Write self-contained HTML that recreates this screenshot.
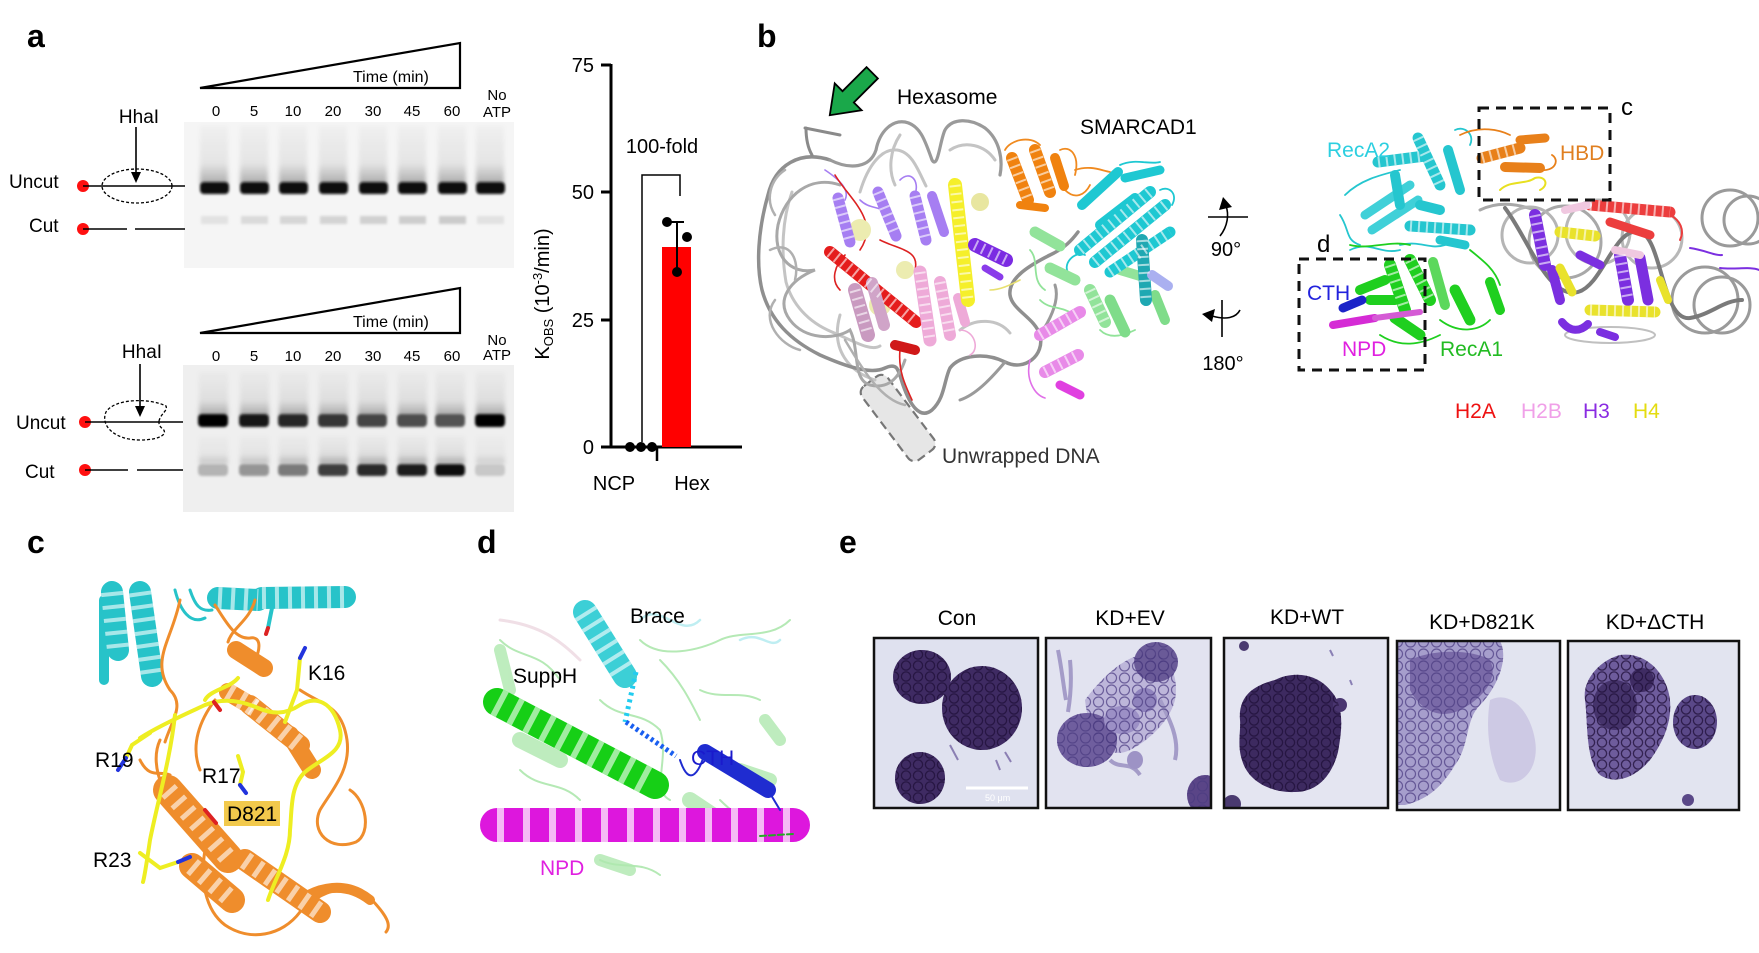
<!DOCTYPE html>
<html><head><meta charset="utf-8">
<style>
html,body{margin:0;padding:0;background:#fff;}
svg{display:block;font-family:"Liberation Sans",Arial,sans-serif;}
.st{fill:none;stroke:#fff;stroke-opacity:.6;stroke-dasharray:2 6;stroke-linecap:butt;}
</style></head><body>
<svg width="1759" height="953" viewBox="0 0 1759 953" xmlns="http://www.w3.org/2000/svg">
<defs>
<filter id="b1" x="-30%" y="-80%" width="160%" height="260%"><feGaussianBlur stdDeviation="1.3"/></filter>
<filter id="b2" x="-30%" y="-30%" width="160%" height="160%"><feGaussianBlur stdDeviation="2.2"/></filter>
<linearGradient id="sm" x1="0" y1="0" x2="0" y2="1">
<stop offset="0" stop-color="#000" stop-opacity="0.02"/>
<stop offset="0.65" stop-color="#000" stop-opacity="0.07"/>
<stop offset="1" stop-color="#000" stop-opacity="0.3"/>
</linearGradient>
<pattern id="cells" width="12" height="11" patternUnits="userSpaceOnUse">
<circle cx="6" cy="5.5" r="4.6" fill="none" stroke="#1e0f38" stroke-width="1.3" stroke-opacity="0.75"/>
</pattern>
<pattern id="cellsL" width="13" height="12" patternUnits="userSpaceOnUse">
<circle cx="6.5" cy="6" r="5" fill="none" stroke="#4a3a80" stroke-width="1.2" stroke-opacity="0.7"/>
</pattern>
<clipPath id="f1"><rect x="874" y="638" width="164" height="170"/></clipPath>
<clipPath id="f2"><rect x="1046" y="638" width="165" height="170"/></clipPath>
<clipPath id="f3"><rect x="1224" y="638" width="164" height="170"/></clipPath>
<clipPath id="f4"><rect x="1397" y="641" width="163" height="169"/></clipPath>
<clipPath id="f5"><rect x="1568" y="641" width="171" height="169"/></clipPath>
</defs>
<rect width="1759" height="953" fill="#fff"/>

<!-- ================= PANEL A ================= -->
<text x="27" y="47" font-size="32" font-weight="bold">a</text>

<path d="M200 88 L460 43 L460 88 Z" fill="none" stroke="#000" stroke-width="2.2"/>
<text x="353" y="82" font-size="16">Time (min)</text>
<g font-size="15" text-anchor="middle">
<text x="216" y="116">0</text><text x="254" y="116">5</text><text x="293" y="116">10</text><text x="333" y="116">20</text><text x="373" y="116">30</text><text x="412" y="116">45</text><text x="452" y="116">60</text>
<text x="497" y="100">No</text><text x="497" y="117">ATP</text>
</g>
<rect x="184" y="122" width="330" height="146" fill="#f5f5f5"/>
<g filter="url(#b2)">
<rect x="200" y="126" width="28" height="58" fill="url(#sm)"/>
<rect x="240" y="126" width="28" height="58" fill="url(#sm)"/>
<rect x="279" y="126" width="28" height="58" fill="url(#sm)"/>
<rect x="319" y="126" width="28" height="58" fill="url(#sm)"/>
<rect x="359" y="126" width="28" height="58" fill="url(#sm)"/>
<rect x="398" y="126" width="28" height="58" fill="url(#sm)"/>
<rect x="438" y="126" width="28" height="58" fill="url(#sm)"/>
<rect x="476" y="126" width="28" height="58" fill="url(#sm)"/>
</g>
<g filter="url(#b1)" fill="#080808">
<rect x="200" y="182" width="29" height="12" rx="4"/>
<rect x="240" y="182" width="29" height="12" rx="4"/>
<rect x="279" y="182" width="29" height="12" rx="4"/>
<rect x="319" y="182" width="29" height="12" rx="4"/>
<rect x="359" y="182" width="29" height="12" rx="4"/>
<rect x="398" y="182" width="29" height="12" rx="4"/>
<rect x="438" y="182" width="29" height="12" rx="4"/>
<rect x="476" y="182" width="29" height="12" rx="4"/>
</g>
<g filter="url(#b1)">
<rect x="201" y="216" width="27" height="8" fill="#e2e2e2"/>
<rect x="241" y="216" width="27" height="8" fill="#dadada"/>
<rect x="280" y="216" width="27" height="8" fill="#d6d6d6"/>
<rect x="320" y="216" width="27" height="8" fill="#d3d3d3"/>
<rect x="360" y="216" width="27" height="8" fill="#d0d0d0"/>
<rect x="399" y="216" width="27" height="8" fill="#cdcdcd"/>
<rect x="439" y="216" width="27" height="8" fill="#cbcbcb"/>
<rect x="477" y="216" width="27" height="8" fill="#e2e2e2"/>
</g>

<text x="139" y="123" font-size="19" text-anchor="middle">HhaI</text>
<line x1="136" y1="127" x2="136" y2="176" stroke="#000" stroke-width="1.6"/>
<path d="M131 172 L141 172 L136 183 Z" fill="#000"/>
<text x="9" y="188" font-size="19">Uncut</text>
<circle cx="83" cy="186" r="6" fill="#ff1010"/>
<line x1="83" y1="186" x2="185" y2="186" stroke="#000" stroke-width="1.6"/>
<ellipse cx="137" cy="186" rx="35" ry="17" fill="none" stroke="#000" stroke-width="1.3" stroke-dasharray="3 2"/>
<text x="29" y="232" font-size="19">Cut</text>
<circle cx="83" cy="229" r="6" fill="#ff1010"/>
<line x1="83" y1="229" x2="127" y2="229" stroke="#000" stroke-width="1.6"/>
<line x1="135" y1="229" x2="185" y2="229" stroke="#000" stroke-width="1.6"/>

<path d="M200 333 L460 288 L460 333 Z" fill="none" stroke="#000" stroke-width="2.2"/>
<text x="353" y="327" font-size="16">Time (min)</text>
<g font-size="15" text-anchor="middle">
<text x="216" y="361">0</text><text x="254" y="361">5</text><text x="293" y="361">10</text><text x="333" y="361">20</text><text x="373" y="361">30</text><text x="412" y="361">45</text><text x="452" y="361">60</text>
<text x="497" y="345">No</text><text x="497" y="360">ATP</text>
</g>
<rect x="183" y="365" width="331" height="147" fill="#efefef"/>
<g filter="url(#b2)">
<rect x="199" y="372" width="29" height="44" fill="url(#sm)"/>
<rect x="240" y="372" width="29" height="44" fill="url(#sm)"/>
<rect x="279" y="372" width="29" height="44" fill="url(#sm)"/>
<rect x="319" y="372" width="29" height="44" fill="url(#sm)"/>
<rect x="358" y="372" width="29" height="44" fill="url(#sm)"/>
<rect x="398" y="372" width="29" height="44" fill="url(#sm)"/>
<rect x="436" y="372" width="29" height="44" fill="url(#sm)"/>
<rect x="476" y="372" width="29" height="44" fill="url(#sm)"/>
<rect x="199" y="436" width="29" height="28" fill="url(#sm)" opacity="0.6"/>
<rect x="240" y="436" width="29" height="28" fill="url(#sm)" opacity="0.7"/>
<rect x="279" y="436" width="29" height="28" fill="url(#sm)" opacity="0.8"/>
<rect x="319" y="436" width="29" height="28" fill="url(#sm)"/>
<rect x="358" y="436" width="29" height="28" fill="url(#sm)"/>
<rect x="398" y="436" width="29" height="28" fill="url(#sm)"/>
<rect x="436" y="436" width="29" height="28" fill="url(#sm)"/>
<rect x="476" y="436" width="29" height="28" fill="url(#sm)" opacity="0.5"/>
</g>
<g filter="url(#b1)">
<rect x="198" y="414" width="30" height="13" rx="4" fill="#050505"/>
<rect x="239" y="414" width="30" height="13" rx="4" fill="#141414"/>
<rect x="278" y="414" width="30" height="13" rx="4" fill="#262626"/>
<rect x="318" y="414" width="30" height="13" rx="4" fill="#353535"/>
<rect x="357" y="414" width="30" height="13" rx="4" fill="#444"/>
<rect x="397" y="414" width="30" height="13" rx="4" fill="#4e4e4e"/>
<rect x="435" y="414" width="30" height="13" rx="4" fill="#525252"/>
<rect x="475" y="414" width="30" height="13" rx="4" fill="#000"/>
<rect x="198" y="464" width="30" height="12" rx="4" fill="#b4b4b4"/>
<rect x="239" y="464" width="30" height="12" rx="4" fill="#959595"/>
<rect x="278" y="464" width="30" height="12" rx="4" fill="#7a7a7a"/>
<rect x="318" y="464" width="30" height="12" rx="4" fill="#3e3e3e"/>
<rect x="357" y="464" width="30" height="12" rx="4" fill="#2c2c2c"/>
<rect x="397" y="464" width="30" height="12" rx="4" fill="#1c1c1c"/>
<rect x="435" y="464" width="30" height="12" rx="4" fill="#111"/>
<rect x="475" y="464" width="30" height="12" rx="4" fill="#c8c8c8"/>
</g>

<text x="142" y="358" font-size="19" text-anchor="middle">HhaI</text>
<line x1="140" y1="364" x2="140" y2="410" stroke="#000" stroke-width="1.6"/>
<path d="M135 406 L145 406 L140 417 Z" fill="#000"/>
<text x="16" y="429" font-size="19">Uncut</text>
<circle cx="85" cy="422" r="6" fill="#ff1010"/>
<line x1="85" y1="422" x2="183" y2="422" stroke="#000" stroke-width="1.6"/>
<path d="M159 421 C161 413 168 411 166 406 C150 398 115 398 106 412 C100 426 115 440 140 440 C160 440 168 434 163 429 C158 426 159 421 159 421" fill="none" stroke="#000" stroke-width="1.3" stroke-dasharray="3 2"/>
<text x="25" y="478" font-size="19">Cut</text>
<circle cx="85" cy="470" r="6" fill="#ff1010"/>
<line x1="85" y1="470" x2="128" y2="470" stroke="#000" stroke-width="1.6"/>
<line x1="137" y1="470" x2="183" y2="470" stroke="#000" stroke-width="1.6"/>

<!-- bar chart -->
<g stroke="#000" stroke-width="3" fill="none">
<line x1="611" y1="64" x2="611" y2="448"/>
<line x1="601" y1="65" x2="611" y2="65"/>
<line x1="601" y1="192" x2="611" y2="192"/>
<line x1="601" y1="320" x2="611" y2="320"/>
<line x1="601" y1="447" x2="742" y2="447"/>
<line x1="657" y1="447" x2="657" y2="461" stroke-width="2.5"/>
</g>
<g font-size="20" text-anchor="end">
<text x="594" y="72">75</text><text x="594" y="199">50</text><text x="594" y="327">25</text><text x="594" y="454">0</text>
</g>
<text transform="translate(549 294) rotate(-90)" font-size="20" text-anchor="middle">K<tspan font-size="13" dy="4">OBS</tspan><tspan dy="-4"> (10</tspan><tspan font-size="13" dy="-7">-3</tspan><tspan dy="7">/min)</tspan></text>
<rect x="662" y="247" width="29" height="200" fill="#ff0000"/>
<line x1="677" y1="222" x2="677" y2="272" stroke="#000" stroke-width="2"/>
<line x1="670" y1="222" x2="684" y2="222" stroke="#000" stroke-width="2"/>
<g fill="#000">
<circle cx="667" cy="222" r="5"/><circle cx="687" cy="237" r="5"/><circle cx="677" cy="272" r="5"/>
<circle cx="630" cy="447" r="5"/><circle cx="641" cy="447" r="5"/><circle cx="652" cy="447" r="5"/>
</g>
<path d="M642 442 V175 H680 V196" fill="none" stroke="#000" stroke-width="1.5"/>
<text x="662" y="153" font-size="20" text-anchor="middle">100-fold</text>
<text x="614" y="490" font-size="20" text-anchor="middle">NCP</text>
<text x="692" y="490" font-size="20" text-anchor="middle">Hex</text>

<!-- ================= PANEL B ================= -->
<text x="757" y="47" font-size="32" font-weight="bold">b</text>
<g transform="translate(851 94) rotate(135)">
<path d="M-30 -8 L4 -8 L4 -19 L30 0 L4 19 L4 8 L-30 8 Z" fill="#1aa84a" stroke="#000" stroke-width="1.8"/>
</g>
<text x="897" y="104" font-size="21">Hexasome</text>
<text x="1080" y="134" font-size="21">SMARCAD1</text>

<g transform="translate(898 418) rotate(-37)">
<rect x="-16" y="-46" width="32" height="92" rx="8" fill="#e6e6e6" stroke="#777" stroke-width="2.2" stroke-dasharray="9 5"/>
</g>
<text x="942" y="463" font-size="21" fill="#333">Unwrapped DNA</text>

<g fill="none" stroke-linecap="round">
<path d="M792 192 C782 220 781 252 786 282 C792 304 808 322 832 332 C852 340 870 352 880 346 M860 192 C868 165 882 148 897 150 C912 152 918 170 926 186 M950 150 C965 140 985 145 995 160 M840 315 C830 350 850 372 875 380 M960 330 C975 318 998 318 1010 333 M900 135 C890 150 888 170 895 185" stroke="#c4c4c4" stroke-width="3"/>
<path d="M830 160 C800 150 775 165 768 195 C758 230 756 265 762 290 C770 320 790 340 820 355 C845 366 870 375 885 368 C898 362 898 370 903 385 C910 405 920 420 932 410 C945 398 944 380 950 368 C960 355 985 352 1005 362 C1025 372 1045 355 1040 335 C1035 318 1012 310 1010 295 C1008 278 1030 265 1050 255 C1065 248 1072 240 1078 232" stroke="#8f8f8f" stroke-width="3.5"/>
<path d="M830 160 C850 170 870 168 876 150 C880 130 893 120 905 122 C920 125 925 140 932 160 C938 170 940 140 945 130 C952 118 970 118 985 128 C1000 140 1003 160 1000 175" stroke="#9a9a9a" stroke-width="3.2"/>
<path d="M805 128 L840 135 M806 128 C806 140 808 148 812 155" stroke="#8a8a8a" stroke-width="3"/>
<path d="M840 185 C810 175 785 195 778 225 C772 255 790 275 815 270 C790 280 775 300 790 320 C805 340 835 340 850 330 C860 350 852 380 870 385 C890 390 900 375 905 360" stroke="#a8a8a8" stroke-width="3"/>
<path d="M770 250 C790 240 800 260 795 280 M845 340 C860 365 880 400 905 405 M775 300 C760 320 780 345 800 350 M785 170 C770 180 765 200 775 215" stroke="#b0b0b0" stroke-width="2.5"/>
<path d="M1005 362 C990 380 975 395 960 400 M1040 335 C1050 320 1060 300 1055 285" stroke="#9a9a9a" stroke-width="3"/>
</g>

<g fill="none" stroke-linecap="round">
<path d="M825 170 C840 180 850 190 845 200 M900 180 C910 170 920 180 915 195 M860 200 C870 210 880 205 890 215" stroke="#a67ef2" stroke-width="1.6"/>
<path d="M835 175 C850 200 880 220 860 250 M900 350 C898 370 905 385 912 400 M880 240 C900 250 920 250 915 270 M845 255 C835 265 830 280 840 290" stroke="#dd2222" stroke-width="1.6"/>
<path d="M1005 150 C1010 140 1030 135 1040 145 M1060 150 C1070 145 1080 155 1075 175 M1065 190 C1075 200 1085 195 1090 185 M1075 170 C1090 165 1100 170 1110 172" stroke="#f08a1f" stroke-width="1.8"/>
<path d="M1070 275 C1060 265 1075 250 1085 255 M1120 165 C1135 158 1150 165 1160 162 M1160 190 C1170 185 1178 195 1172 205" stroke="#1ec8d2" stroke-width="1.8"/>
<path d="M1040 300 C1050 310 1060 305 1075 315 M1100 330 C1110 340 1125 335 1135 330 M1030 250 C1040 260 1030 280 1045 290" stroke="#92e39a" stroke-width="1.8"/>
<path d="M1030 360 C1025 380 1035 395 1045 398" stroke="#e070e8" stroke-width="1.6"/>
<path d="M960 330 C975 330 980 350 970 355" stroke="#eeaad8" stroke-width="1.6"/>
<path d="M990 290 C1000 290 1010 285 1020 280" stroke="#e8e070" stroke-width="1.6"/>
<circle cx="860" cy="230" r="11" fill="#ececb0" stroke="none"/>
<circle cx="880" cy="305" r="11" fill="#ececb0" stroke="none"/>
<circle cx="905" cy="270" r="9" fill="#ececb0" stroke="none"/>
<circle cx="980" cy="202" r="9" fill="#e8e6a0" stroke="none"/>
<g stroke-width="11">
<path d="M838 198 L850 242" stroke="#a67ef2"/>
<path d="M878 192 L896 236" stroke="#a67ef2"/>
<path d="M915 196 L926 240" stroke="#a67ef2"/>
<path d="M932 196 L944 232" stroke="#a67ef2" stroke-width="10"/>
<path d="M830 252 L916 322" stroke="#e51c1c" stroke-width="12"/>
<path d="M895 345 L915 350" stroke="#d01818" stroke-width="10"/>
<path d="M855 290 L868 335" stroke="#c99ac0" stroke-width="14"/>
<path d="M872 283 L884 325" stroke="#d0a4c8" stroke-width="12"/>
<path d="M920 272 L930 340" stroke="#eeaad8" stroke-width="13"/>
<path d="M940 282 L950 335" stroke="#eeaad8" stroke-width="12"/>
<path d="M958 298 L965 322" stroke="#eeaad8" stroke-width="10"/>
<path d="M955 185 L968 300" stroke="#f5ef2a" stroke-width="14"/>
<path d="M975 245 L1006 260" stroke="#7b2be2" stroke-width="14"/>
<path d="M985 268 L1000 277" stroke="#8a3cea" stroke-width="7"/>
<path d="M1012 158 L1028 200" stroke="#f0820f" stroke-width="12"/>
<path d="M1035 150 L1050 192" stroke="#f0820f" stroke-width="12"/>
<path d="M1055 158 L1064 186" stroke="#f0820f" stroke-width="10"/>
<path d="M1020 205 L1045 208" stroke="#f0820f" stroke-width="8"/>
<path d="M1035 232 L1060 246" stroke="#92e39a"/>
<path d="M1050 268 L1075 280" stroke="#92e39a"/>
<path d="M1090 290 L1105 322" stroke="#92e39a" stroke-width="12"/>
<path d="M1110 300 L1125 332" stroke="#7fdc8a"/>
<path d="M1120 270 L1140 276" stroke="#92e39a" stroke-width="10"/>
<path d="M1155 295 L1165 320" stroke="#7fdc8a" stroke-width="10"/>
<path d="M1080 250 L1150 192" stroke="#1ec8d2" stroke-width="12"/>
<path d="M1095 262 L1165 205" stroke="#1ec8d2" stroke-width="12"/>
<path d="M1110 272 L1170 232" stroke="#1ec8d2"/>
<path d="M1082 205 L1118 172" stroke="#1ec8d2" stroke-width="10"/>
<path d="M1125 178 L1160 170" stroke="#1ec8d2" stroke-width="9"/>
<path d="M1100 225 L1135 198" stroke="#1ec8d2" stroke-width="10"/>
<path d="M1142 240 L1146 300" stroke="#1fa8b2" stroke-width="12"/>
<path d="M1152 275 L1168 286" stroke="#aab0f0" stroke-width="10"/>
<path d="M1040 335 L1080 312" stroke="#e88ae8" stroke-width="12"/>
<path d="M1045 372 L1078 355" stroke="#e88ae8" stroke-width="12"/>
<path d="M1060 385 L1080 395" stroke="#e040e0" stroke-width="9"/>
</g>
<g class="st" stroke-width="11">
<path d="M838 198 L850 242"/><path d="M878 192 L896 236"/><path d="M915 196 L926 240"/>
<path d="M830 252 L916 322"/><path d="M855 290 L868 335"/><path d="M920 272 L930 340"/><path d="M940 282 L950 335"/>
<path d="M955 185 L968 300"/><path d="M975 245 L1006 260"/><path d="M1012 158 L1028 200"/><path d="M1035 150 L1050 192"/>
<path d="M1080 250 L1150 192"/><path d="M1095 262 L1165 205"/><path d="M1110 272 L1170 232"/><path d="M1142 240 L1146 300"/>
<path d="M1040 335 L1080 312"/><path d="M1045 372 L1078 355"/><path d="M1090 290 L1105 322"/>
</g>
</g>

<g stroke="#000" stroke-width="1.6" fill="none">
<line x1="1208" y1="217" x2="1248" y2="217"/>
<path d="M1220 236 C1228 226 1229 214 1226 206"/>
<line x1="1222" y1="300" x2="1222" y2="337"/>
<path d="M1240 310 C1236 318 1226 320 1212 316"/>
</g>
<path d="M1219 210 L1223 197 L1232 207 Z" fill="#000"/>
<path d="M1215 309 L1202 314 L1212 322 Z" fill="#000"/>
<text x="1226" y="256" font-size="20" text-anchor="middle">90°</text>
<text x="1223" y="370" font-size="20" text-anchor="middle">180°</text>

<g fill="none" stroke-linecap="round">
<g stroke="#a8a8a8" stroke-width="3">
<circle cx="1565" cy="242" r="36"/>
<circle cx="1598" cy="232" r="32" stroke="#b8b8b8"/>
<circle cx="1652" cy="238" r="30" stroke="#b8b8b8"/>
<circle cx="1730" cy="218" r="28" stroke="#9a9a9a"/>
<circle cx="1748" cy="220" r="24" stroke="#9a9a9a"/>
<circle cx="1705" cy="300" r="33" stroke="#9a9a9a"/>
<circle cx="1722" cy="305" r="28" stroke="#9a9a9a"/>
<ellipse cx="1610" cy="335" rx="45" ry="8" stroke="#c0c0c0" stroke-width="2"/>
<path d="M1480 210 C1500 200 1520 205 1535 210"/>
<circle cx="1530" cy="235" r="28" stroke="#b5b5b5"/>
</g>
<path d="M1505 208 C1528 238 1548 300 1578 292 C1603 285 1615 225 1640 232 C1662 238 1662 322 1690 318 C1710 315 1724 300 1742 300" stroke="#7a7a7a" stroke-width="4"/>
<path d="M1345 195 C1360 180 1380 175 1400 170 M1350 250 C1370 240 1380 255 1400 250 M1455 130 C1465 125 1475 135 1470 145 M1340 215 C1350 230 1345 240 1360 245 M1400 245 C1420 240 1430 250 1445 245" stroke="#25c6cf" stroke-width="1.8"/>
<path d="M1460 135 C1480 125 1500 130 1510 135 M1540 170 C1555 172 1560 160 1552 155" stroke="#e8801a" stroke-width="1.8"/>
<path d="M1500 190 C1510 180 1525 185 1535 178 C1545 175 1550 185 1540 190" stroke="#e8e020" stroke-width="2"/>
<path d="M1350 245 C1370 250 1390 240 1410 245 M1440 320 C1460 335 1480 330 1490 320 M1380 335 C1400 348 1420 345 1440 335 M1470 250 C1485 262 1495 270 1500 285" stroke="#1fcf1f" stroke-width="1.8"/>
<path d="M1690 248 C1705 250 1715 256 1722 255 M1720 268 C1735 270 1750 266 1759 270" stroke="#7b2fe0" stroke-width="2"/>
<path d="M1670 215 C1680 220 1685 230 1680 240" stroke="#ec3d3d" stroke-width="2"/>
<g stroke-width="11">
<path d="M1378 162 L1425 156" stroke="#25c6cf"/>
<path d="M1418 138 L1440 185" stroke="#25c6cf"/>
<path d="M1448 150 L1460 190" stroke="#25c6cf" stroke-width="10"/>
<path d="M1365 215 L1410 185" stroke="#40d0d8" stroke-width="9"/>
<path d="M1372 230 L1418 200" stroke="#40d0d8" stroke-width="9"/>
<path d="M1410 226 L1470 230" stroke="#25c6cf"/>
<path d="M1420 205 L1440 210" stroke="#25c6cf" stroke-width="10"/>
<path d="M1395 175 L1400 205" stroke="#25c6cf" stroke-width="10"/>
<path d="M1440 240 L1465 245" stroke="#25c6cf" stroke-width="9"/>
<path d="M1482 158 L1520 148" stroke="#e8801a"/>
<path d="M1505 167 L1540 168" stroke="#e8801a" stroke-width="10"/>
<path d="M1520 140 L1545 138" stroke="#e8801a" stroke-width="9"/>
<path d="M1360 290 L1385 280" stroke="#1fcf1f" stroke-width="10"/>
<path d="M1390 265 L1405 310" stroke="#1fcf1f" stroke-width="12"/>
<path d="M1410 260 L1430 300" stroke="#1fcf1f" stroke-width="12"/>
<path d="M1433 262 L1445 305" stroke="#5cd85c" stroke-width="10"/>
<path d="M1455 290 L1470 320" stroke="#1fcf1f"/>
<path d="M1490 282 L1500 310" stroke="#1fcf1f" stroke-width="10"/>
<path d="M1395 318 L1420 335" stroke="#1fcf1f"/>
<path d="M1370 300 L1395 300" stroke="#1fcf1f" stroke-width="10"/>
<path d="M1333 325 L1375 318" stroke="#d52bd5" stroke-width="8"/>
<path d="M1375 318 L1420 312" stroke="#d55bd5" stroke-width="6"/>
<path d="M1343 308 L1362 300" stroke="#1c24c8" stroke-width="9"/>
<path d="M1535 215 L1545 265" stroke="#7b2fe0" stroke-width="12"/>
<path d="M1552 270 L1560 300" stroke="#7b2fe0" stroke-width="10"/>
<path d="M1562 322 C1570 332 1580 332 1588 324" stroke="#7b2fe0" stroke-width="8"/>
<path d="M1620 255 L1628 300" stroke="#7b2fe0" stroke-width="12"/>
<path d="M1640 258 L1648 300" stroke="#7b2fe0"/>
<path d="M1580 255 L1600 265" stroke="#7b2fe0" stroke-width="9"/>
<path d="M1600 332 L1615 337" stroke="#7b2fe0" stroke-width="8"/>
<path d="M1560 232 L1595 236" stroke="#e9e22c"/>
<path d="M1560 268 L1572 292" stroke="#e9e22c" stroke-width="9"/>
<path d="M1590 310 L1655 312" stroke="#e9e22c"/>
<path d="M1660 280 L1668 300" stroke="#e9e22c" stroke-width="8"/>
<path d="M1590 205 L1670 212" stroke="#ec3d3d"/>
<path d="M1610 222 L1650 235" stroke="#ec3d3d" stroke-width="9"/>
<path d="M1565 210 L1588 205" stroke="#f0c8e0" stroke-width="8"/>
<path d="M1615 250 L1640 255" stroke="#f0c8e0" stroke-width="8"/>
</g>
<g class="st" stroke-width="11">
<path d="M1378 162 L1425 156"/><path d="M1418 138 L1440 185"/><path d="M1410 226 L1470 230"/>
<path d="M1482 158 L1520 148"/><path d="M1390 265 L1405 310"/><path d="M1410 260 L1430 300"/>
<path d="M1535 215 L1545 265"/><path d="M1620 255 L1628 300"/><path d="M1560 232 L1595 236"/>
<path d="M1590 310 L1655 312"/><path d="M1590 205 L1670 212"/>
</g>
</g>
<g fill="none" stroke="#111" stroke-width="3" stroke-dasharray="10 7">
<rect x="1479" y="108" width="131" height="92"/>
<rect x="1299" y="259" width="126" height="111"/>
</g>
<text x="1621" y="115" font-size="24">c</text>
<text x="1317" y="252" font-size="24">d</text>
<text x="1327" y="157" font-size="21" fill="#2ccfe0">RecA2</text>
<text x="1560" y="160" font-size="21" fill="#e07f20">HBD</text>
<text x="1307" y="300" font-size="21" fill="#2222dd">CTH</text>
<text x="1342" y="356" font-size="21" fill="#e020e0">NPD</text>
<text x="1440" y="356" font-size="21" fill="#22bb22">RecA1</text>
<g font-size="21">
<text x="1455" y="418" fill="#ee1111">H2A</text>
<text x="1521" y="418" fill="#f0a0e8">H2B</text>
<text x="1583" y="418" fill="#8a2be2">H3</text>
<text x="1633" y="418" fill="#e4dc10">H4</text>
</g>

<!-- ================= PANEL C ================= -->
<text x="27" y="553" font-size="32" font-weight="bold">c</text>
<g fill="none" stroke-linecap="round">
<g stroke="#27c3c9" stroke-width="22">
<path d="M112 592 L118 650"/>
<path d="M140 592 L152 676"/>
<path d="M218 598 L258 600"/>
<path d="M262 598 L345 597"/>
</g>
<path d="M104 600 L104 680" stroke="#27c3c9" stroke-width="10"/>
<path d="M175 590 C180 610 190 625 205 618 M190 590 C195 605 200 612 212 610" stroke="#27c3c9" stroke-width="3"/>
<g class="st" stroke-width="22" style="stroke-dasharray:4 9">
<path d="M112 592 L118 650"/><path d="M140 592 L152 676"/><path d="M218 598 L258 600"/><path d="M262 598 L345 597"/>
</g>
<path d="M272 608 L268 628" stroke="#27c3c9" stroke-width="4"/>
<path d="M268 628 L266 634" stroke="#dd2222" stroke-width="4"/>
<g stroke="#ef8d2c" stroke-width="3">
<path d="M180 600 C172 640 150 660 170 690 C185 705 172 720 165 742"/>
<path d="M160 740 C150 762 162 790 170 800"/>
<path d="M215 605 C225 620 235 640 250 638 C262 636 260 650 255 660"/>
<path d="M255 600 C250 620 232 628 228 642"/>
<path d="M300 690 C322 705 342 705 347 740 C351 770 332 790 320 810 C310 832 330 852 356 842 C372 833 366 800 350 790"/>
<path d="M205 850 C200 880 205 910 225 925 C250 942 282 936 300 912 C320 890 352 880 372 900 C386 915 392 925 386 932"/>
<path d="M140 760 C150 780 160 770 170 775"/>
<path d="M215 700 C200 720 190 745 200 770"/>
</g>
<g stroke="#ef8d2c" stroke-width="18">
<path d="M236 650 L264 668"/>
<path d="M228 692 L255 708"/>
<path d="M250 705 L300 745" stroke-width="20"/>
<path d="M290 735 L312 770"/>
<path d="M168 790 L228 858" stroke-width="30"/>
<path d="M192 866 L232 900" stroke-width="26"/>
<path d="M245 860 L320 912" stroke-width="22"/>
<path d="M300 900 C318 888 345 880 370 900" stroke-width="10"/>
</g>
<g class="st" stroke-width="18" style="stroke-dasharray:5 9">
<path d="M228 692 L255 708"/><path d="M250 705 L300 745"/><path d="M168 790 L228 858"/><path d="M245 860 L320 912"/><path d="M192 866 L232 900"/>
</g>
<g stroke="#eeee22" stroke-width="4">
<path d="M140 738 C160 725 190 712 205 705 C222 698 240 700 258 708 C272 714 285 715 300 705 C315 696 333 700 340 730 C345 752 322 758 305 772 C290 786 292 810 290 830 C290 855 276 876 268 900"/>
<path d="M175 715 C170 760 158 800 150 840 C147 860 145 875 143 882"/>
<path d="M205 700 C210 690 230 688 238 678"/>
<path d="M300 658 L297 690 L285 722"/>
<path d="M150 733 L132 745 L126 758"/>
<path d="M238 756 L243 772 L240 785"/>
<path d="M140 853 L160 868 L178 862"/>
</g>
<g stroke="#2233dd" stroke-width="4">
<path d="M300 658 L305 648"/><path d="M126 758 L118 770"/><path d="M240 785 L246 793"/><path d="M178 862 L190 857"/>
</g>
<path d="M205 810 L216 823 M214 702 L220 710" stroke="#dd2222" stroke-width="4"/>
</g>
<rect x="224" y="801" width="56" height="25" fill="#f2c94c"/>
<g font-size="21">
<text x="308" y="680">K16</text>
<text x="95" y="767">R19</text>
<text x="202" y="783">R17</text>
<text x="227" y="821">D821</text>
<text x="93" y="867">R23</text>
</g>

<!-- ================= PANEL D ================= -->
<text x="477" y="553" font-size="32" font-weight="bold">d</text>
<g fill="none" stroke-linecap="round">
<path d="M500 620 C540 625 560 640 580 660" stroke="#f0dfe6" stroke-width="3"/>
<g stroke="#b5e9b5" stroke-width="2">
<path d="M500 640 C520 660 540 650 560 680"/>
<path d="M640 640 C660 660 700 650 720 640 C740 630 770 640 790 620"/>
<path d="M700 690 C720 700 740 690 760 700"/>
<path d="M600 700 C620 720 640 710 660 730 C670 760 650 790 670 800"/>
<path d="M720 800 C740 820 760 830 780 820"/>
<path d="M600 860 C620 870 640 860 660 875"/>
<path d="M520 770 C540 790 560 780 580 800"/>
<path d="M660 660 C680 680 690 700 700 720"/>
</g>
<g stroke="#aee8ae" stroke-width="16" opacity="0.8">
<path d="M520 740 L560 760"/>
<path d="M690 800 L720 820"/>
<path d="M740 770 L770 780" stroke-width="14"/>
<path d="M600 860 L630 870" stroke-width="12"/>
<path d="M765 720 L780 740" stroke-width="12"/>
<path d="M500 650 L510 690" stroke-width="12"/>
</g>
<path d="M640 620 C660 600 680 640 700 620 M740 640 C760 630 770 650 780 640" stroke="#bfeef2" stroke-width="2.5"/>
<path d="M585 612 L625 676" stroke="#3ccfd6" stroke-width="24"/>
<path d="M585 612 L625 676" class="st" stroke-width="24" style="stroke-dasharray:4 9"/>
<path d="M497 702 L655 785" stroke="#16cf16" stroke-width="28"/>
<path d="M497 702 L655 785" class="st" stroke-width="28" style="stroke-dasharray:6 12"/>
<path d="M497 825 L793 825" stroke="#dd17dd" stroke-width="34"/>
<path d="M497 825 L793 825" class="st" stroke-width="34" style="stroke-dasharray:7 19;stroke-opacity:.7"/>
<path d="M705 752 L768 790" stroke="#1f2cd0" stroke-width="16"/>
<path d="M680 760 C690 790 700 770 705 752 M768 790 L780 810" stroke="#1f2cd0" stroke-width="2"/>
<path d="M636 672 L625 722" stroke="#22ccf0" stroke-width="5" stroke-dasharray="3 4" stroke-linecap="butt"/>
<path d="M626 722 L676 756" stroke="#1a5ff0" stroke-width="5" stroke-dasharray="3 3" stroke-linecap="butt"/>
<path d="M760 836 L793 834" stroke="#22aa22" stroke-width="2" stroke-dasharray="6 3"/>
</g>
<text x="630" y="623" font-size="21">Brace</text>
<text x="513" y="683" font-size="21">SuppH</text>
<text x="691" y="765" font-size="21" fill="#1a1acc">CTH</text>
<text x="540" y="875" font-size="21" fill="#e020e0">NPD</text>

<!-- ================= PANEL E ================= -->
<text x="839" y="553" font-size="32" font-weight="bold">e</text>
<g font-size="21" text-anchor="middle">
<text x="957" y="625">Con</text>
<text x="1130" y="625">KD+EV</text>
<text x="1307" y="624">KD+WT</text>
<text x="1482" y="629">KD+D821K</text>
<text x="1655" y="629">KD+ΔCTH</text>
</g>
<rect x="874" y="638" width="164" height="170" fill="#dfe1ef"/>
<g clip-path="url(#f1)">
<g fill="#3f2b63">
<ellipse cx="922" cy="677" rx="29" ry="27"/>
<ellipse cx="982" cy="708" rx="40" ry="42"/>
<ellipse cx="920" cy="778" rx="25" ry="26"/>
</g>
<g fill="url(#cells)">
<ellipse cx="922" cy="677" rx="29" ry="27"/>
<ellipse cx="982" cy="708" rx="40" ry="42"/>
<ellipse cx="920" cy="778" rx="25" ry="26"/>
</g>
<path d="M950 745 L958 760 M996 760 L1000 770 M1005 752 l6 10" stroke="#8b7fb3" stroke-width="2"/>
<line x1="966" y1="788" x2="1028" y2="788" stroke="#fff" stroke-width="3"/>
<text x="985" y="801" font-size="9" fill="#fff">50 μm</text>
</g>
<rect x="874" y="638" width="164" height="170" fill="none" stroke="#111" stroke-width="2.5"/>
<rect x="1046" y="638" width="165" height="170" fill="#e2e3f0"/>
<g clip-path="url(#f2)">
<path d="M1085 700 C1100 680 1120 660 1140 655 C1165 650 1180 670 1175 700 C1170 720 1150 740 1130 750 C1110 760 1090 745 1085 700 Z" fill="#b6aed6" opacity="0.85"/>
<path d="M1058 650 C1062 670 1064 690 1066 700 M1070 660 C1072 680 1070 700 1068 712 M1160 700 C1170 720 1180 740 1175 760 M1110 760 C1120 770 1130 760 1140 775" stroke="#a49cc8" stroke-width="4" fill="none"/>
<ellipse cx="1087" cy="740" rx="30" ry="27" fill="#6f5e9e"/>
<ellipse cx="1156" cy="662" rx="22" ry="20" fill="#6a5a98"/>
<ellipse cx="1122" cy="720" rx="18" ry="14" fill="#9c90c6"/>
<ellipse cx="1145" cy="700" rx="12" ry="12" fill="#8f83bd"/>
<ellipse cx="1205" cy="795" rx="18" ry="20" fill="#5a4587"/>
<ellipse cx="1135" cy="760" rx="8" ry="9" fill="#9d93c5"/>
<g fill="url(#cellsL)">
<ellipse cx="1087" cy="740" rx="30" ry="27"/>
<ellipse cx="1156" cy="662" rx="22" ry="20"/>
<ellipse cx="1205" cy="795" rx="18" ry="20"/>
<path d="M1085 700 C1100 680 1120 660 1140 655 C1165 650 1180 670 1175 700 C1170 720 1150 740 1130 750 C1110 760 1090 745 1085 700 Z"/>
</g>
</g>
<rect x="1046" y="638" width="165" height="170" fill="none" stroke="#111" stroke-width="2.5"/>
<rect x="1224" y="638" width="164" height="170" fill="#e4e5f1"/>
<g clip-path="url(#f3)">
<path d="M1240 720 C1238 695 1255 685 1275 680 C1295 670 1318 675 1330 690 C1345 705 1342 730 1338 752 C1332 775 1318 792 1295 792 C1272 793 1248 782 1242 760 C1237 745 1241 730 1240 720 Z" fill="#3d2a60"/>
<circle cx="1340" cy="705" r="7" fill="#4a3670"/>
<path d="M1240 720 C1238 695 1255 685 1275 680 C1295 670 1318 675 1330 690 C1345 705 1342 730 1338 752 C1332 775 1318 792 1295 792 C1272 793 1248 782 1242 760 C1237 745 1241 730 1240 720 Z" fill="url(#cells)"/>
<circle cx="1244" cy="646" r="5" fill="#4a3a70"/>
<circle cx="1232" cy="804" r="9" fill="#4a3a70"/>
<path d="M1330 650 l3 6 M1350 680 l2 5" stroke="#8a80b5" stroke-width="2"/>
</g>
<rect x="1224" y="638" width="164" height="170" fill="none" stroke="#111" stroke-width="2.5"/>
<rect x="1397" y="641" width="163" height="169" fill="#e2e4f0"/>
<g clip-path="url(#f4)">
<path d="M1397 641 L1500 641 C1510 660 1495 690 1480 705 C1465 720 1470 745 1455 765 C1440 790 1425 800 1405 805 L1397 805 Z" fill="#a096c8" opacity="0.9"/>
<path d="M1410 660 C1430 650 1470 648 1490 660 C1500 680 1480 700 1460 710 C1440 720 1420 710 1410 690 Z" fill="#7a6aa8"/>
<path d="M1490 700 C1510 690 1530 710 1535 740 C1540 770 1520 790 1500 780 C1490 760 1485 730 1490 700 Z" fill="#cbc5e2" opacity="0.9"/>
<path d="M1397 641 L1500 641 C1510 660 1495 690 1480 705 C1465 720 1470 745 1455 765 C1440 790 1425 800 1405 805 L1397 805 Z" fill="url(#cellsL)"/>
</g>
<rect x="1397" y="641" width="163" height="169" fill="none" stroke="#111" stroke-width="2.5"/>
<rect x="1568" y="641" width="171" height="169" fill="#e2e4f0"/>
<g clip-path="url(#f5)">
<path d="M1585 700 C1582 680 1600 660 1620 655 C1640 652 1660 665 1668 690 C1675 715 1665 740 1650 760 C1635 778 1615 785 1600 775 C1585 760 1588 720 1585 700 Z" fill="#6e5c9c"/>
<ellipse cx="1615" cy="705" rx="22" ry="25" fill="#45336b"/>
<ellipse cx="1642" cy="680" rx="12" ry="12" fill="#3f2c63"/>
<ellipse cx="1695" cy="722" rx="22" ry="27" fill="#5a4888"/>
<circle cx="1688" cy="800" r="6" fill="#5a4888"/>
<path d="M1585 700 C1582 680 1600 660 1620 655 C1640 652 1660 665 1668 690 C1675 715 1665 740 1650 760 C1635 778 1615 785 1600 775 C1585 760 1588 720 1585 700 Z" fill="url(#cells)"/>
<ellipse cx="1695" cy="722" rx="22" ry="27" fill="url(#cells)"/>
</g>
<rect x="1568" y="641" width="171" height="169" fill="none" stroke="#111" stroke-width="2.5"/>
</svg>
</body></html>
